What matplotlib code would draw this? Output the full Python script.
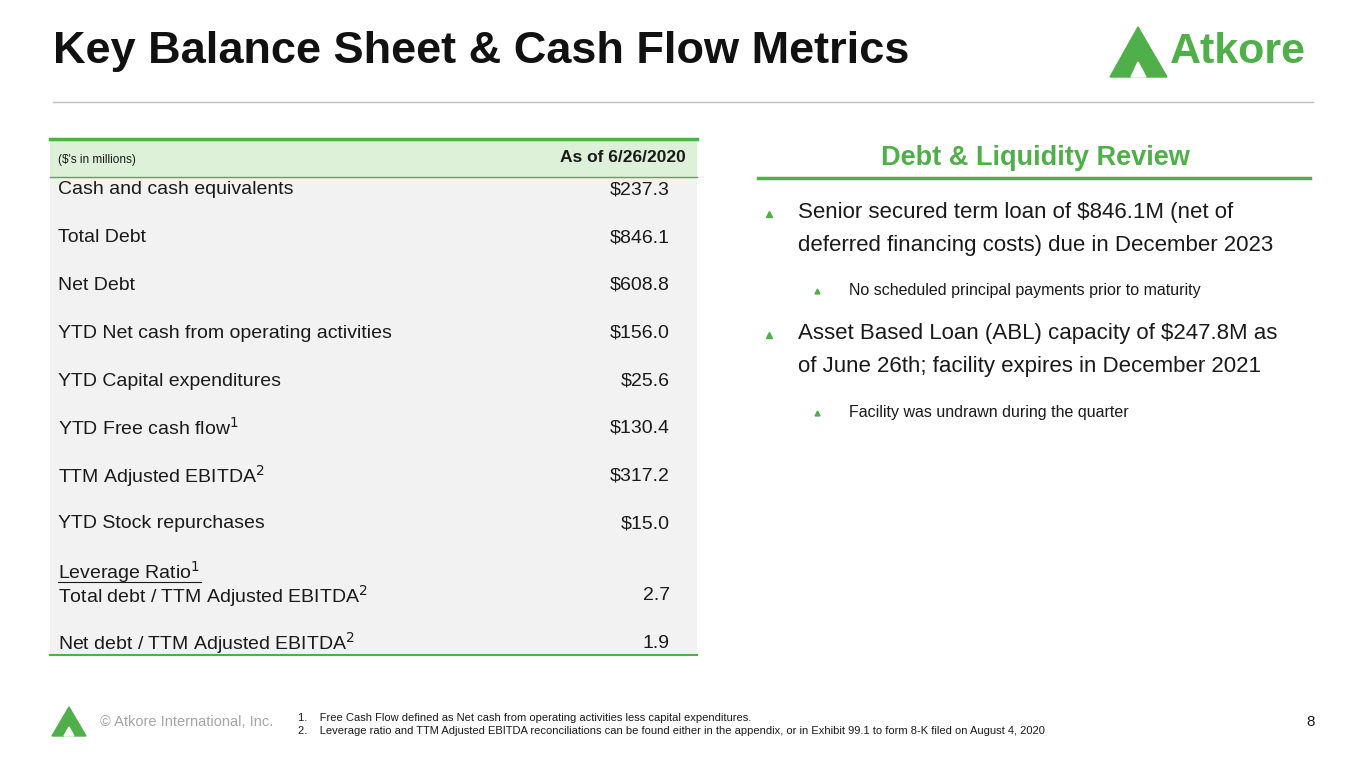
import matplotlib
matplotlib.use('Agg')
import matplotlib.pyplot as plt
from matplotlib.patches import Rectangle, Polygon

W, H = 1365, 768
GREEN = '#4FAF48'

row_labels = ['Cash and cash equivalents', 'Total Debt', 'Net Debt',
              'YTD Net cash from operating activities', 'YTD Capital expenditures',
              'YTD Free cash flow$^{1}$', 'TTM Adjusted EBITDA$^{2}$', 'YTD Stock repurchases',
              'Total debt / TTM Adjusted EBITDA$^{2}$', 'Net debt / TTM Adjusted EBITDA$^{2}$']
row_values = ['\\$237.3', '\\$846.1', '\\$608.8', '\\$156.0', '\\$25.6', '\\$130.4', '\\$317.2', '\\$15.0', '2.7', '1.9']
row_y = [190, 238, 285, 333, 381, 428, 476, 524, 596, 643]

bullets = [('Senior secured term loan of \\$846.1M (net of\ndeferred financing costs) due in December 2023', 1, 214),
           ('No scheduled principal payments prior to maturity', 2, 291),
           ('Asset Based Loan (ABL) capacity of \\$247.8M as\nof June 26th; facility expires in December 2021', 1, 335),
           ('Facility was undrawn during the quarter', 2, 413)]

footnotes = ['1.    Free Cash Flow defined as Net cash from operating activities less capital expenditures.',
             '2.    Leverage ratio and TTM Adjusted EBITDA reconciliations can be found either in the appendix, or in Exhibit 99.1 to form 8-K filed on August 4, 2020']

plt.rcParams['font.family'] = ['Liberation Sans', 'DejaVu Sans']

fig = plt.figure(figsize=(W / 100, H / 100), dpi=100)
ax = fig.add_axes([0, 0, 1, 1])
ax.set_xlim(0, W)
ax.set_ylim(H, 0)
ax.axis('off')

def txt(x, y, s, **kw):
    kw.setdefault('va', 'center')
    kw.setdefault('color', '#1a1a1a')
    ax.text(x, y, s, **kw)

# title
txt(53, 52, 'Key Balance Sheet & Cash Flow Metrics', fontsize=32.5, fontweight='bold', color='#111111')
ax.plot([53, 1313], [102, 102], color='#bfbfbf', lw=1)

# logo
ax.add_patch(Polygon([[1110, 77], [1138, 27], [1167, 77]], color=GREEN))
ax.add_patch(Polygon([[1131, 77], [1138, 62], [1146, 77]], color='white'))
txt(1170, 52, 'Atkore', fontsize=31, fontweight='bold', color=GREEN)

# table
ax.add_patch(Rectangle((50, 139), 647, 38, color='#DDF1D8', lw=0))
ax.add_patch(Rectangle((50, 177), 647, 478, color='#F2F2F2', lw=0))
ax.plot([50, 697], [139, 139], color=GREEN, lw=2.5)
ax.plot([50, 697], [177, 177], color=GREEN, lw=1)
ax.plot([50, 697], [655, 655], color=GREEN, lw=1.5)
txt(58, 160, "($'s in millions)".replace('$', '\\$'), fontsize=8.5)
txt(686, 158, 'As of 6/26/2020', fontsize=12.5, fontweight='bold', ha='right')
for lab, val, y in zip(row_labels, row_values, row_y):
    txt(58, y, lab, fontsize=14)
    txt(670, y, val, fontsize=14, ha='right')
txt(58, 572, 'Leverage Ratio$^{1}$', fontsize=14)
ax.plot([58, 201], [582, 582], color='#1a1a1a', lw=0.8)

# right panel
txt(1035, 158, 'Debt & Liquidity Review', fontsize=19.5, fontweight='bold', color=GREEN, ha='center')
ax.plot([758, 1310], [178, 178], color=GREEN, lw=2.5)
for s, lvl, y in bullets:
    if lvl == 1:
        ax.plot(769, y, marker='^', color=GREEN, ms=5)
        txt(798, y + 15, s, fontsize=16, linespacing=1.7)
    else:
        ax.plot(817, y, marker='^', color=GREEN, ms=3.5)
        txt(849, y, s, fontsize=11.5)

# footer
ax.add_patch(Polygon([[52, 736], [69, 707], [86, 736]], color=GREEN))
ax.add_patch(Polygon([[64, 736], [69, 727], [74, 736]], color='white'))
txt(100, 722, '\u00a9 Atkore International, Inc.', fontsize=10.5, color='#a6a6a6')
txt(298, 718, footnotes[0], fontsize=8)
txt(298, 731, footnotes[1], fontsize=8)
txt(1315, 722, '8', fontsize=11, ha='right')

fig.savefig('out.png', dpi=100)
